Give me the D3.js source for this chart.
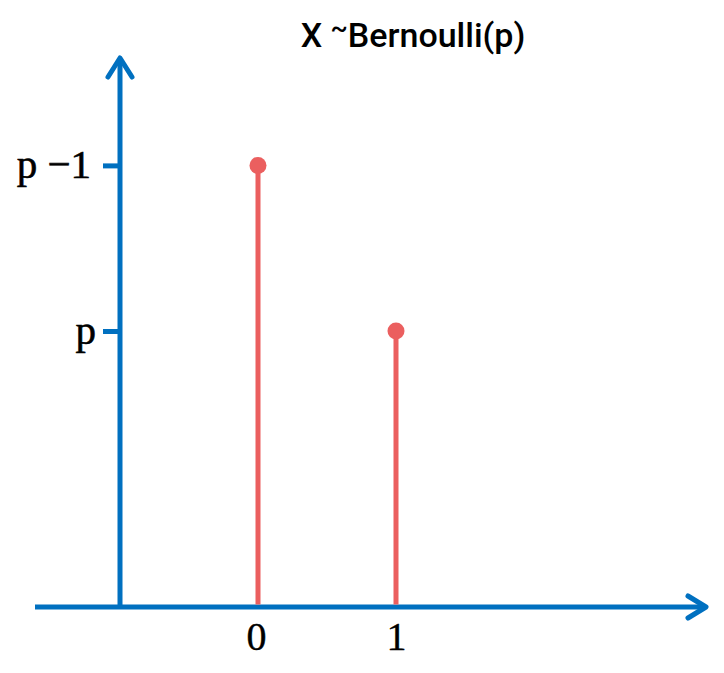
<!DOCTYPE html>
<html><head><meta charset="utf-8">
<script src="https://cdn.jsdelivr.net/npm/d3@7"></script>
<style>body{margin:0;background:#fff}svg{display:block}</style>
</head><body>
<svg id="c" width="724" height="673"></svg>
<script>
const categories = [0, 1];
const values = [0.8, 0.5];
const xTickLabels = ["0", "1"];
const yTickValues = [0.8, 0.5];
const yTickLabels = ["p \u22121", "p"];
const titleMain = "X ";
const titleTilde = "~";
const titleRest = "Bernoulli(p)";

const blue = "#0070c0", red = "#eb5f5f";
const serif = "'Liberation Serif', 'Times New Roman', serif";
const svg = d3.select("#c");
const x = d3.scaleLinear().domain([-1, 3]).range([120, 672]);
const y = d3.scaleLinear().domain([0, 1]).range([607, 55]);

// axis lines with arrows
const g = svg.append("g");
g.append("line").attr("x1", x(-1)).attr("x2", x(-1)).attr("y1", y(0)).attr("y2", y(1) + 3)
  .attr("stroke", blue).attr("stroke-width", 5);
g.append("path").attr("d", `M${x(-1)-12},${y(1)+22}L${x(-1)},${y(1)+3}L${x(-1)+12},${y(1)+22}`)
  .attr("fill", "none").attr("stroke", blue).attr("stroke-width", 5)
  .attr("stroke-linecap", "round").attr("stroke-linejoin", "round");
g.append("line").attr("x1", 35).attr("x2", 705).attr("y1", y(0)).attr("y2", y(0))
  .attr("stroke", blue).attr("stroke-width", 5);
g.append("path").attr("d", `M688,${y(0)-11}L706,${y(0)}L688,${y(0)+11}`)
  .attr("fill", "none").attr("stroke", blue).attr("stroke-width", 5)
  .attr("stroke-linecap", "round").attr("stroke-linejoin", "round");

// y axis ticks
const ya = svg.append("g").attr("transform", `translate(${x(-1)},0)`)
  .call(d3.axisLeft(y).tickValues(yTickValues).tickFormat((d, i) => yTickLabels[i]).tickSize(17).tickPadding(12));
ya.select(".domain").remove();
ya.selectAll(".tick line").attr("stroke", blue).attr("stroke-width", 5);
ya.selectAll(".tick text").attr("font-family", serif)
  .attr("font-size", 41).attr("fill", "#000").attr("stroke", "#000").attr("stroke-width", 0.6)
  .attr("dy", "0.3em").attr("dx", (d, i) => i === 1 ? 5 : 0);

// x axis labels
const xa = svg.append("g").attr("transform", `translate(0,${y(0)})`)
  .call(d3.axisBottom(x).tickValues(categories).tickFormat((d, i) => xTickLabels[i]).tickSize(0).tickPadding(15));
xa.select(".domain").remove();
xa.selectAll(".tick text").attr("font-family", serif)
  .attr("font-size", 40).attr("fill", "#000").attr("stroke", "#000").attr("stroke-width", 0.4);
xa.select(".tick text").attr("dx", -2);

// stems
svg.selectAll(".stem").data(values).join("line").attr("class", "stem")
  .attr("x1", (d, i) => x(categories[i])).attr("x2", (d, i) => x(categories[i]))
  .attr("y1", y(0) - 2.5).attr("y2", d => y(d))
  .attr("stroke", red).attr("stroke-width", 5);
svg.selectAll(".dot").data(values).join("circle").attr("class", "dot")
  .attr("cx", (d, i) => x(categories[i])).attr("cy", d => y(d)).attr("r", 8.5).attr("fill", red);

// title
const t = svg.append("text").attr("x", 413).attr("y", 47).attr("text-anchor", "middle")
  .attr("font-family", "Roboto, 'DejaVu Sans', sans-serif").attr("font-weight", 500)
  .attr("font-size", 34).attr("fill", "#000");
t.append("tspan").text(titleMain);
t.append("tspan").attr("dy", -10).attr("font-size", 26).text(titleTilde);
t.append("tspan").attr("dy", 10).text(titleRest);
</script>
</body></html>
